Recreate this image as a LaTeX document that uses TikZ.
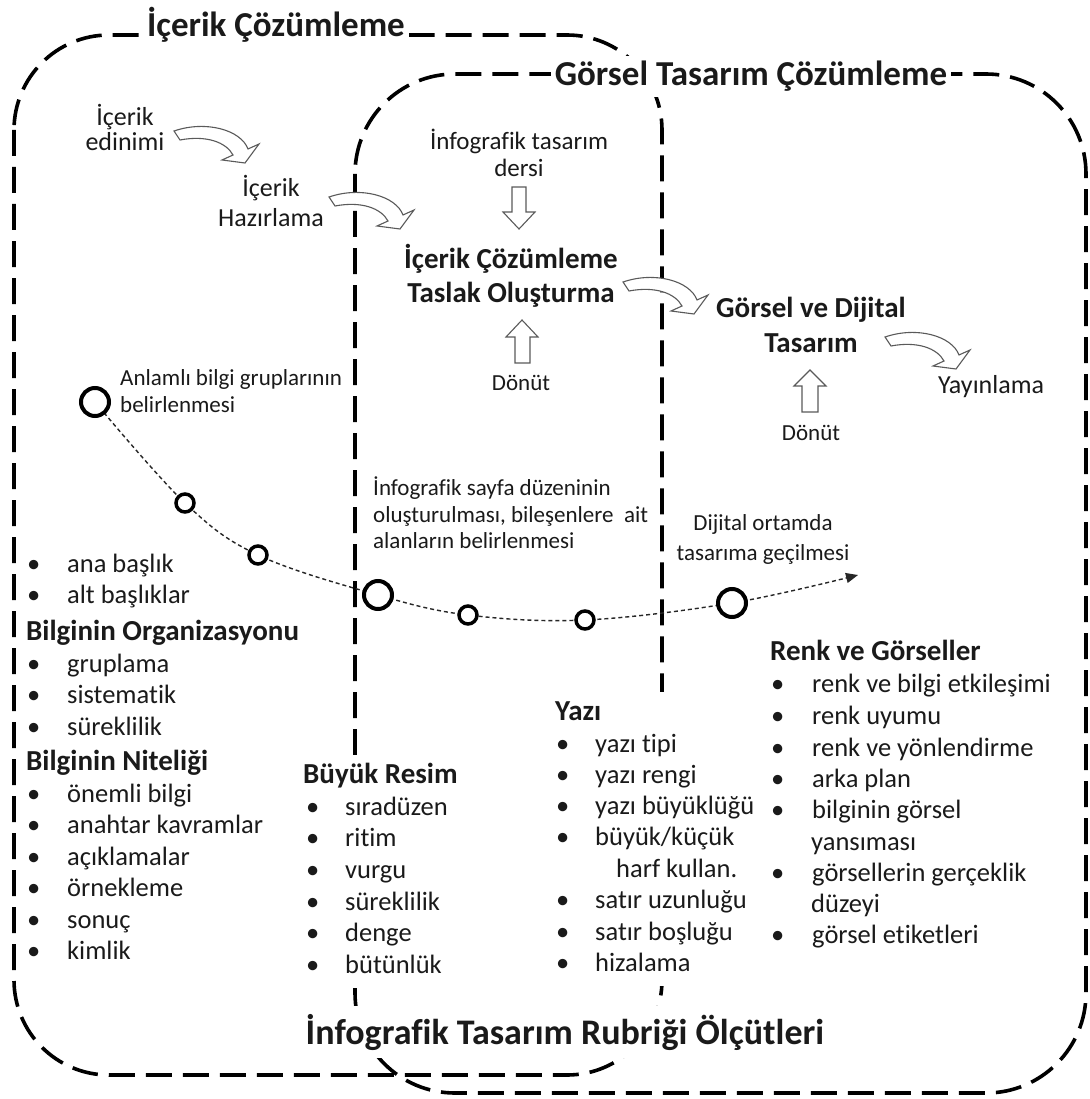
\documentclass[tikz,border=0pt]{standalone}
\usepackage{fontspec}
\setmainfont{Carlito}[Ligatures={NoCommon,NoContextual},Contextuals=NoAlternate]
\usetikzlibrary{arrows.meta}
\definecolor{ink}{HTML}{1A1A1A}
\definecolor{arrowline}{HTML}{5A5A5A}
% bullet line: bullet, fixed gap, then the item text
\newcommand\blt[2][40pt]{\makebox[#1][l]{•}#2}
% bent hollow block arrow, tail corner at #1
\newcommand\bentarrow[1]{%
  \draw[blockarrow, shift={#1}] (0,0) .. controls (32,-11) and (67,-1) .. (74,18)
    -- (85,13) -- (71,32) -- (48,29) -- (59,24)
    .. controls (52,11) and (32,4) .. (6,9) -- cycle;}
\begin{document}
\begin{tikzpicture}[x=1pt,y=-1pt,
  region/.style={line width=3.6pt, dash pattern=on 26pt off 11pt},
  regiontitle/.style={font=\fontsize{35}{40}\selectfont\bfseries, fill=white, inner xsep=4pt, inner ysep=5pt, anchor=base, text=ink},
  stepbold/.style={font=\fontsize{29}{34}\selectfont\bfseries, anchor=base, inner sep=0pt, text=ink},
  steptext/.style={font=\fontsize{26}{30}\selectfont, anchor=base, inner sep=0pt, text=ink},
  feedback/.style={steptext, font=\fontsize{23}{27}\selectfont},
  note/.style={font=\fontsize{23}{27}\selectfont, anchor=base west, inner sep=0pt, text=ink},
  notec/.style={note, anchor=base},
  listhead/.style={font=\fontsize{29}{34}\selectfont\bfseries, anchor=base west, inner sep=0pt, text=ink},
  listitem/.style={font=\fontsize{26.5}{31}\selectfont, anchor=base west, inner sep=0pt, text=ink},
  blockarrow/.style={draw=arrowline, line width=1.1pt, fill=white, line join=miter},
  bigdot/.style={circle, draw=black, line width=4pt, fill=white, minimum size=28pt, inner sep=0pt},
  smalldot/.style={circle, draw=black, line width=3.5pt, fill=white, minimum size=18pt, inner sep=0pt},
  trail/.style={line width=1.4pt, dash pattern=on 4pt off 3pt, draw=black!85},
]
\fill[white] (0,0) rectangle (1089,1099);
\useasboundingbox (0,0) rectangle (1089,1099);

% the two overlapping dashed regions
\draw[region, rounded corners=95pt] (14,35) rectangle (662,1075);
\draw[region, rounded corners=100pt] (355,74) rectangle (1086,1093);

% white ground under the two middle lists
\fill[white] (298,755) rectangle (472,986);
\fill[white] (548,692) rectangle (768,986);

% region titles
\node[regiontitle] (titleA) at (276,37) {İçerik Çözümleme};
\node[regiontitle] (titleB) at (751,86) {Görsel Tasarım Çözümleme};
\node[regiontitle, font=\fontsize{36}{40}\selectfont\bfseries, inner ysep=8pt] (titleC) at (565,1044) {İnfografik Tasarım Rubriği Ölçütleri};

% process steps
\node[steptext] (s1a) at (125,126) {İçerik};
\node[steptext] (s1b) at (125,151) {edinimi};
\node[steptext] (s2a) at (271,197) {İçerik};
\node[steptext] (s2b) at (271,227) {Hazırlama};
\node[steptext, font=\fontsize{25}{30}\selectfont] (s3a) at (519,150) {İnfografik tasarım};
\node[steptext, font=\fontsize{25}{30}\selectfont] (s3b) at (519,177) {dersi};
\node[stepbold] (s4a) at (511,268) {İçerik Çözümleme};
\node[stepbold] (s4b) at (511,302) {Taslak Oluşturma};
\node[feedback] (s5) at (521,390) {Dönüt};
\node[stepbold] (s6a) at (811,317) {Görsel ve Dijital};
\node[stepbold] (s6b) at (811,352) {Tasarım};
\node[feedback] (s7) at (811,440) {Dönüt};
\node[steptext] (s8) at (991,393) {Yayınlama};

% bent block arrows between steps
\bentarrow{(174,131)}
\bentarrow{(329,197)}
\bentarrow{(623,282)}
\bentarrow{(885,337)}

% straight block arrows
\draw[blockarrow] (512,187) -- (526,187) -- (526,212) -- (535,212) -- (519,229) -- (503,212) -- (512,212) -- cycle;
\draw[blockarrow] (515,363) -- (530,363) -- (530,337) -- (538,337) -- (522,320) -- (506,337) -- (515,337) -- cycle;
\draw[blockarrow] (802,412) -- (818,412) -- (818,386) -- (826,386) -- (810,370) -- (794,386) -- (802,386) -- cycle;

% milestones along the dotted trail
\coordinate (p1) at (95,402);
\coordinate (p2) at (185,503);
\coordinate (p3) at (258,555);
\coordinate (p4) at (378,595);
\coordinate (p5) at (468,615);
\coordinate (p6) at (585,620);
\coordinate (p7) at (732,603);
\coordinate (pend) at (858,575);
\draw[trail, -{Triangle[length=12pt,width=10pt]}] plot[smooth, tension=0.6] coordinates {(p1) (p2) (p3) (p4) (p5) (p6) (p7) (pend)};
\node[bigdot] (c1) at (p1) {};
\node[smalldot] (c2) at (p2) {};
\node[smalldot] (c3) at (p3) {};
\node[bigdot] (c4) at (p4) {};
\node[smalldot] (c5) at (p5) {};
\node[smalldot] (c6) at (p6) {};
\node[bigdot] (c7) at (p7) {};

% milestone notes
\node[note] (n1a) at (120,385) {Anlamlı bilgi gruplarının};
\node[note] (n1b) at (120,412) {belirlenmesi};
\node[note] (n2a) at (373,495) {İnfografik sayfa düzeninin};
\node[note] (n2b) at (373,522) {oluşturulması, bileşenlere~ ait};
\node[note] (n2c) at (373,548) {alanların belirlenmesi};
\node[notec] (n3a) at (763,530) {Dijital ortamda};
\node[notec] (n3b) at (763,560) {tasarıma geçilmesi};

% criteria: organisation and quality of information
\node[listitem] (a1) at (27,572) {\blt{ana başlık}};
\node[listitem] (a2) at (27,603) {\blt{alt başlıklar}};
\node[listhead] (a3) at (26,640) {Bilginin Organizasyonu};
\node[listitem] (a4) at (27,672) {\blt{gruplama}};
\node[listitem] (a5) at (27,703) {\blt{sistematik}};
\node[listitem] (a6) at (27,735) {\blt{süreklilik}};
\node[listhead] (a7) at (26,770) {Bilginin Niteliği};
\node[listitem] (a8) at (27,802) {\blt{önemli bilgi}};
\node[listitem] (a9) at (27,833) {\blt{anahtar kavramlar}};
\node[listitem] (a10) at (27,865) {\blt{açıklamalar}};
\node[listitem] (a11) at (27,896) {\blt{örnekleme}};
\node[listitem] (a12) at (27,928) {\blt{sonuç}};
\node[listitem] (a13) at (27,959) {\blt{kimlik}};

% criteria: big picture
\node[listhead] (b0) at (303,783) {Büyük Resim};
\node[listitem] (b1) at (306,815) {\blt[39pt]{sıradüzen}};
\node[listitem] (b2) at (306,846) {\blt[39pt]{ritim}};
\node[listitem] (b3) at (306,878) {\blt[39pt]{vurgu}};
\node[listitem] (b4) at (306,910) {\blt[39pt]{süreklilik}};
\node[listitem] (b5) at (306,941) {\blt[39pt]{denge}};
\node[listitem] (b6) at (306,973) {\blt[39pt]{bütünlük}};

% criteria: type
\node[listhead] (y0) at (555,720) {Yazı};
\node[listitem] (y1) at (556,752) {\blt[39pt]{yazı tipi}};
\node[listitem] (y2) at (556,783) {\blt[39pt]{yazı rengi}};
\node[listitem] (y3) at (556,814) {\blt[39pt]{yazı büyüklüğü}};
\node[listitem] (y4) at (556,845) {\blt[39pt]{büyük/küçük}};
\node[listitem] (y5) at (616,877) {harf kullan.};
\node[listitem] (y6) at (556,908) {\blt[39pt]{satır uzunluğu}};
\node[listitem] (y7) at (556,940) {\blt[39pt]{satır boşluğu}};
\node[listitem] (y8) at (556,971) {\blt[39pt]{hizalama}};

% criteria: colour and visuals
\node[listhead] (r0) at (770,660) {Renk ve Görseller};
\node[listitem] (r1) at (771,692) {\blt[41pt]{renk ve bilgi etkileşimi}};
\node[listitem] (r2) at (771,724) {\blt[41pt]{renk uyumu}};
\node[listitem] (r3) at (771,756) {\blt[41pt]{renk ve yönlendirme}};
\node[listitem] (r4) at (771,787) {\blt[41pt]{arka plan}};
\node[listitem] (r5) at (771,818) {\blt[41pt]{bilginin görsel}};
\node[listitem] (r6) at (811,850) {yansıması};
\node[listitem] (r7) at (771,881) {\blt[41pt]{görsellerin gerçeklik}};
\node[listitem] (r8) at (811,912) {düzeyi};
\node[listitem] (r9) at (771,943) {\blt[41pt]{görsel etiketleri}};
\end{tikzpicture}
\end{document}
